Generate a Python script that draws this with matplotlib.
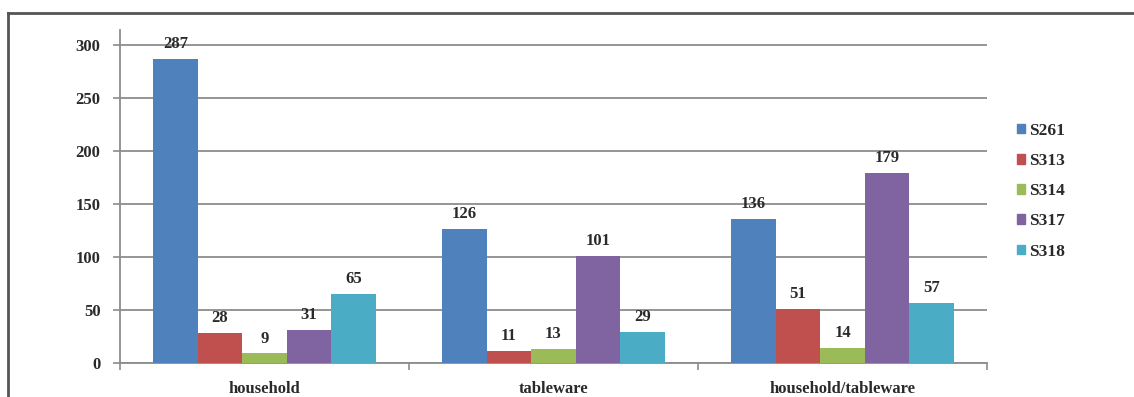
import matplotlib
matplotlib.use("Agg")
import matplotlib.pyplot as plt
import numpy as np
from matplotlib.patches import Rectangle
from matplotlib.lines import Line2D

categories = ["household", "tableware", "household/tableware"]
series_names = ["S261", "S313", "S314", "S317", "S318"]
S261 = [287, 126, 136]
S313 = [28, 11, 51]
S314 = [9, 13, 14]
S317 = [31, 101, 179]
S318 = [65, 29, 57]
colors = ["#4F81BD", "#C0504D", "#9BBB59", "#8064A2", "#4BACC6"]
yticks = [0, 50, 100, 150, 200, 250, 300]

plt.rcParams['font.family'] = ['Liberation Serif', 'DejaVu Serif']
plt.rcParams['font.weight'] = 'bold'
W, H = 1134, 397
fig = plt.figure(figsize=(W / 100, H / 100), dpi=100)
fig.patch.set_facecolor("white")

ax = fig.add_axes([120 / W, (H - 363) / H, (987 - 120) / W, 333 / H])
data = [S261, S313, S314, S317, S318]
x = np.arange(len(categories))
bw = 0.154
txtc = "#2a2a2a"
fs = 12
for i, (vals, name, c) in enumerate(zip(data, series_names, colors)):
    bars = ax.bar(x + (i - 2) * bw, vals, bw, color=c, label=name, zorder=3)
    for b, v in zip(bars, vals):
        ax.annotate(str(v), (b.get_x() + b.get_width() / 2, v), xytext=(0, 5),
                    textcoords="offset points", ha="center", va="bottom",
                    fontsize=fs, color=txtc, fontweight="bold")

ax.set_xlim(-0.5, 2.5)
ax.set_ylim(0, 314)
ax.set_yticks(yticks)
ax.set_yticklabels([str(t) for t in yticks], fontsize=fs, color=txtc, fontweight="bold")
ax.yaxis.grid(True, color="#8c8c8c", linewidth=1.3, zorder=0)
ax.set_axisbelow(True)
ax.set_xticks(x)
ax.set_xticklabels(categories, fontsize=fs, color=txtc, fontweight="bold")
ax.tick_params(axis="x", length=0, pad=13)
ax.set_xticks([-0.5, 0.5, 1.5, 2.5], minor=True)
ax.tick_params(axis="x", which="minor", length=5, color="#8c8c8c", width=1.2)
ax.tick_params(axis="y", length=5, color="#8c8c8c", width=1.2, pad=9)
for s in ["top", "right"]:
    ax.spines[s].set_visible(False)
for s in ["left", "bottom"]:
    ax.spines[s].set_color("#8c8c8c")
    ax.spines[s].set_linewidth(1.3)

handles = [Rectangle((0, 0), 1, 1, color=c) for c in colors]
fig.legend(handles, series_names, loc="upper left",
           bbox_to_anchor=(1008 / W, 1 - 114 / H), frameon=False,
           prop={"size": 12.5, "weight": "bold"}, handlelength=0.5, handleheight=0.5,
           handletextpad=0.2, labelspacing=0.82, borderpad=0,
           labelcolor=txtc)

# outer border lines (top and left)
fig.add_artist(Line2D([8 / W, 1], [1 - 13 / H, 1 - 13 / H], color="#555555",
                      linewidth=2, transform=fig.transFigure))
fig.add_artist(Line2D([8 / W, 8 / W], [0, 1 - 13 / H], color="#555555",
                      linewidth=2, transform=fig.transFigure))

fig.savefig("out.png", dpi=100)
